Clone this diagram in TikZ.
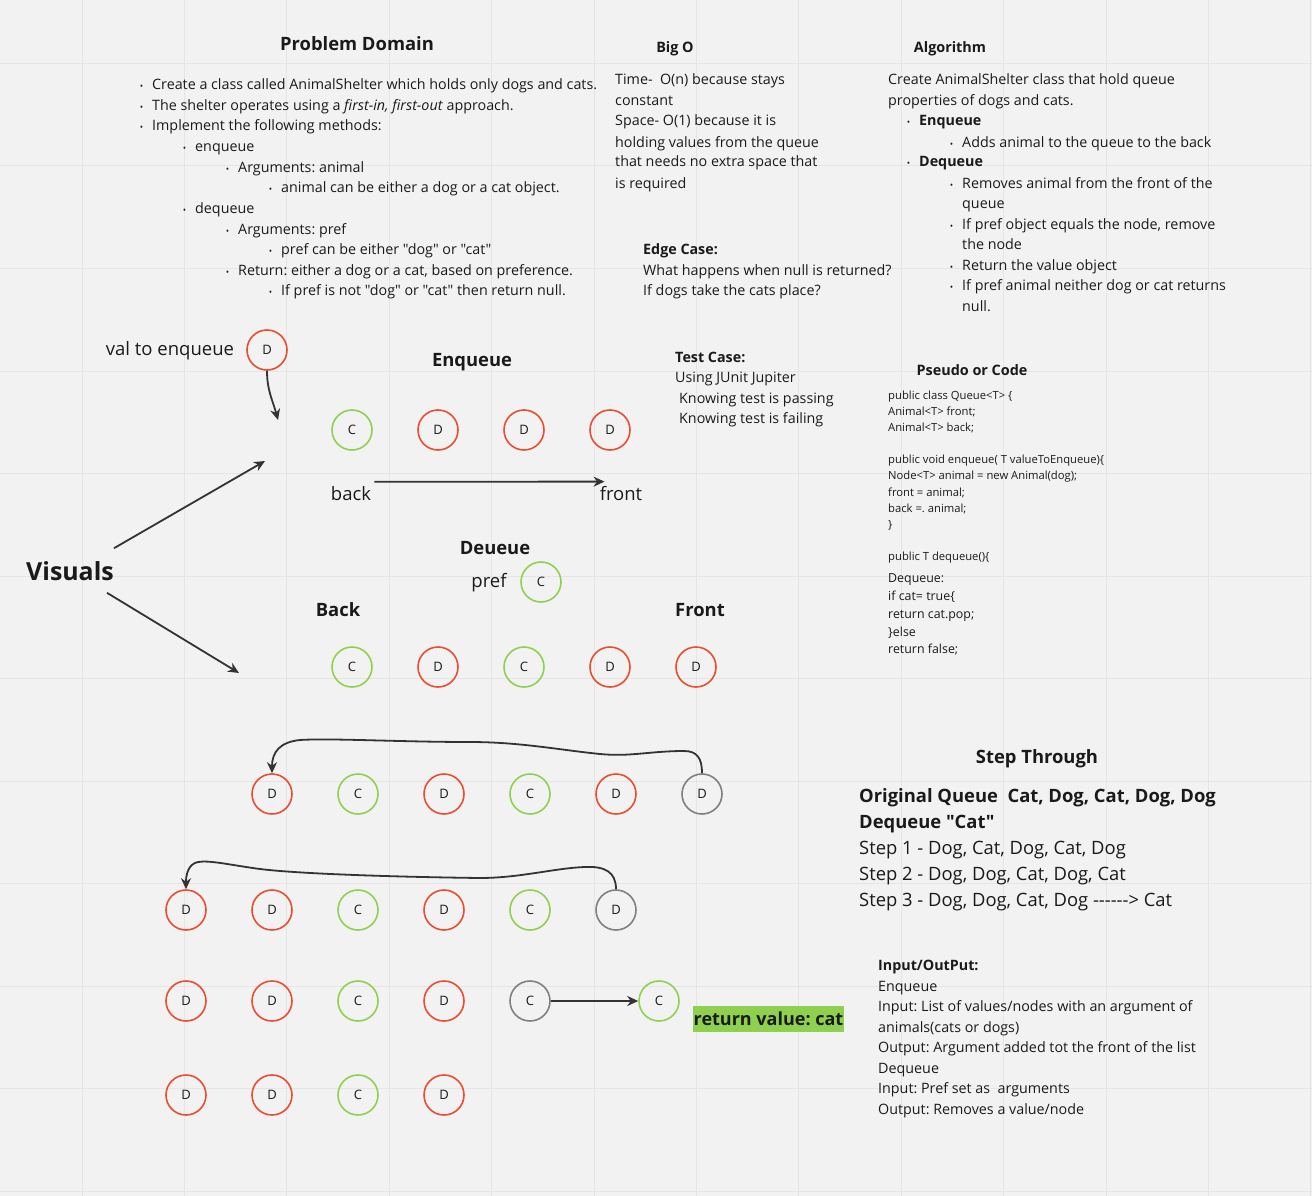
\documentclass[tikz,border=0pt]{standalone}
\usepackage{fontspec}
\setmainfont{Open Sans}[Ligatures=TeXOff]
\usetikzlibrary{arrows.meta,positioning}
\definecolor{paper}{HTML}{F2F2F2}
\definecolor{gridline}{HTML}{E5E5E5}
\definecolor{ink}{HTML}{1A1A1A}
\definecolor{arrowink}{HTML}{333333}
\definecolor{dogred}{HTML}{E94E2E}
\definecolor{catgreen}{HTML}{8FD14F}
\definecolor{gonegray}{HTML}{808080}
\newcommand{\bul}{\llap{{\fontsize{9}{9}\selectfont\textbullet}\hspace{9pt}}}
\frenchspacing

\begin{document}
\begin{tikzpicture}[x=1pt,y=-1pt,
    body/.style={font=\fontsize{14.3}{17}\selectfont, text=ink, inner sep=0pt, anchor=base west},
    head/.style={font=\fontsize{14.4}{17}\selectfont\bfseries, text=ink, inner sep=0pt},
    big/.style={font=\fontsize{18.4}{21}\selectfont\bfseries, text=ink, inner sep=0pt},
    mid/.style={font=\fontsize{18.5}{21}\selectfont, text=ink, inner sep=0pt},
    code/.style={font=\fontsize{11.25}{13}\selectfont, text=ink, inner sep=0pt, anchor=base west},
    animal/.style={circle, line width=1.6pt, minimum size=40pt, inner sep=0pt, font=\fontsize{13}{13}\selectfont, text=ink},
    dog/.style={animal, draw=dogred},
    cat/.style={animal, draw=catgreen},
    gone/.style={animal, draw=gonegray},
    arr/.style={draw=arrowink, line width=1.8pt, -{Stealth[length=11pt,width=10pt]}}]

% background and board grid
\fill[paper] (0,0) rectangle (1312,1196);
\useasboundingbox (0,0) rectangle (1312,1196);
\foreach \k in {0,...,12}
  \draw[gridline, line width=1pt] (82+102.4*\k,0) -- (82+102.4*\k,1196);
\foreach \k in {-3,...,8}
  \draw[gridline, line width=1pt] (0,371+102.5*\k) -- (1312,371+102.5*\k);

% problem domain
\node[big] (pdtitle) at (357,44) {Problem Domain};
\foreach \x/\y/\t [count=\i] in {
    152/85/{\bul Create a class called AnimalShelter which holds only dogs and cats.},
    152/106/{\bul The shelter operates using a \textit{first-in, first-out} approach.},
    152/126/{\bul Implement the following methods:},
    195/147/{\bul enqueue},
    238/167/{\bul Arguments: animal},
    281/188/{\bul animal can be either a dog or a cat object.},
    195/208/{\bul dequeue},
    238/229/{\bul Arguments: pref},
    281/249/{\bul pref can be either "dog" or "cat"},
    238/270/{\bul Return: either a dog or a cat, based on preference.},
    281/290/{\bul If pref is not "dog" or "cat" then return null.}}
  \node[body] (pd\i) at (\x,\y+5) {\t};

% big o
\node[head] (bigotitle) at (675,49) {Big O};
\foreach \y/\t [count=\i] in {
    80/{Time-\ \ O(n) because stays},
    101/{constant},
    121/{Space- O(1) because it is},
    142/{holding values from the queue},
    162/{that needs no extra space that},
    183/{is required}}
  \node[body] (bigo\i) at (615,\y+5) {\t};

% algorithm
\node[head] (algotitle) at (950,49) {Algorithm};
\foreach \x/\y/\t [count=\i] in {
    888/80/{Create AnimalShelter class that hold queue},
    888/101/{properties of dogs and cats.},
    919/121/{\bul\textbf{Enqueue}},
    962/142/{\bul Adds animal to the queue to the back},
    919/162/{\bul\textbf{Dequeue}},
    962/183/{\bul Removes animal from the front of the},
    962/203/{queue},
    962/224/{\bul If pref object equals the node, remove},
    962/244/{the node},
    962/265/{\bul Return the value object},
    962/285/{\bul If pref animal neither dog or cat returns},
    962/306/{null.}}
  \node[body] (algo\i) at (\x,\y+5) {\t};

% edge case and test case
\foreach \x/\y/\t [count=\i] in {
    643/249/{\textbf{Edge Case:}},
    643/270/{What happens when null is returned?},
    643/290/{If dogs take the cats place?},
    675/357/{\textbf{Test Case:}},
    675/377/{Using JUnit Jupiter},
    679/398/{Knowing test is passing},
    679/418/{Knowing test is failing}}
  \node[body] (cases\i) at (\x,\y+5) {\t};

% pseudo code
\node[head] (codetitle) at (972,370) {Pseudo or Code};
\foreach \y/\t [count=\i] in {
    395/{public class Queue<T> \{},
    411/{Animal<T> front;},
    427/{Animal<T> back;},
    459/{public void enqueue( T valueToEnqueue)\{},
    475/{Node<T> animal = new Animal(dog);},
    492/{front = animal;},
    508/{back =. animal;},
    524/{\}},
    556/{public T dequeue()\{}}
  \node[code] (code\i) at (888,\y+4) {\t};
\foreach \y/\t [count=\i] in {
    578/{Dequeue:},
    596/{if cat= true\{},
    614/{return cat.pop;},
    632/{\}else},
    649/{return false;}}
  \node[code, font=\fontsize{12.4}{14}\selectfont] (deq\i) at (888,\y+4) {\t};

% step through
\node[big] (steptitle) at (1037,759) {Step Through};
\foreach \y/\t [count=\i] in {
    796/{\textbf{Original Queue\ \ Cat, Dog, Cat, Dog, Dog}},
    822/{\textbf{Dequeue "Cat"}},
    848/{Step 1 - Dog, Cat, Dog, Cat, Dog},
    874/{Step 2 - Dog, Dog, Cat, Dog, Cat},
    900/{Step 3 - Dog, Dog, Cat, Dog ------> Cat}}
  \node[body, font=\fontsize{18.4}{21}\selectfont] (walk\i) at (859,\y+6.5) {\t};

% input / output
\foreach \y/\t [count=\i] in {
    965/{\textbf{Input/OutPut:}},
    986/{Enqueue},
    1006/{Input: List of values/nodes with an argument of},
    1027/{animals(cats or dogs)},
    1047/{Output: Argument added tot the front of the list},
    1068/{Dequeue},
    1088/{Input: Pref set as\ \ arguments},
    1109/{Output: Removes a value/node}}
  \node[body] (io\i) at (878,\y+5) {\t};

% visuals
\node[font=\fontsize{24.9}{28}\selectfont\bfseries, text=ink, inner sep=0pt] (visuals) at (70,571) {Visuals};
\coordinate (enqtip) at (265,461);
\coordinate (deqtip) at (239,673);
\draw[arr] ([yshift=13pt]visuals.north east) -- (enqtip);
\draw[arr] ([xshift=-7pt,yshift=-12pt]visuals.south east) -- (deqtip);

% enqueue
\node[dog] (valD) at (267,350) {D};
\node[mid, left=12pt of valD, yshift=-1pt] (valtxt) {val to enqueue};
\coordinate (enqin) at (278,420);
\draw[arr] (valD.south) to[out=-90,in=105] (enqin);
\node[big] (enqtitle) at (472,362) {Enqueue};
\foreach \s/\l/\x [count=\i] in {cat/C/352, dog/D/438, dog/D/524, dog/D/610}
  \node[\s] (enq\i) at (\x,430) {\l};
\node[mid] (back) at (351,494) {back};
\node[mid] (front) at (621,494) {front};
\draw[arr] ([xshift=3pt,yshift=5pt]back.north east) -- ([xshift=5pt,yshift=5pt]front.north west);

% dequeue
\node[big] (deqtitle) at (495,548) {Deueue};
\node[cat] (prefC) at (541,582) {C};
\node[mid] (pref) at (489,583) {pref};
\node[big] (Back) at (338,610) {Back};
\node[big] (Front) at (700,610) {Front};
\foreach \s/\l/\x [count=\i] in {cat/C/352, dog/D/438, cat/C/524, dog/D/610, dog/D/696}
  \node[\s] (deq\i) at (\x,667) {\l};

% walk-through rows
\foreach \s/\l/\x [count=\i] in {dog/D/272, cat/C/358, dog/D/444, cat/C/530, dog/D/616, gone/D/702}
  \node[\s] (sa\i) at (\x,794) {\l};
\draw[arr] (sa6.north) .. controls (702,758) and (697,751) .. (684,751)
  .. controls (650,751) and (630,757) .. (600,754)
  .. controls (560,750) and (520,742) .. (470,742)
  .. controls (400,742) and (330,738) .. (300,740)
  .. controls (280,742) and (272,752) .. (sa1.north);

\foreach \s/\l/\x [count=\i] in {dog/D/186, dog/D/272, cat/C/358, dog/D/444, cat/C/530, gone/D/616}
  \node[\s] (sb\i) at (\x,910) {\l};
\draw[arr] (sb6.north) .. controls (616,872) and (605,866) .. (585,867)
  .. controls (555,868) and (520,878) .. (480,878)
  .. controls (400,877) and (300,874) .. (260,869)
  .. controls (230,865) and (210,860) .. (198,862)
  .. controls (188,864) and (186,875) .. (sb1.north);

\foreach \s/\l/\x [count=\i] in {dog/D/186, dog/D/272, cat/C/358, dog/D/444, gone/C/530}
  \node[\s] (sc\i) at (\x,1001) {\l};
\node[cat] (retC) at (659,1001) {C};
\draw[arr] (sc5) -- (retC);
\node[fill=catgreen, text=ink, font=\fontsize{18}{20}\selectfont\bfseries, inner xsep=1pt, minimum height=26pt] (retval) at (768.5,1019) {return value: cat};

\foreach \s/\l/\x [count=\i] in {dog/D/186, dog/D/272, cat/C/358, dog/D/444}
  \node[\s] (sd\i) at (\x,1095) {\l};
\end{tikzpicture}
\end{document}
